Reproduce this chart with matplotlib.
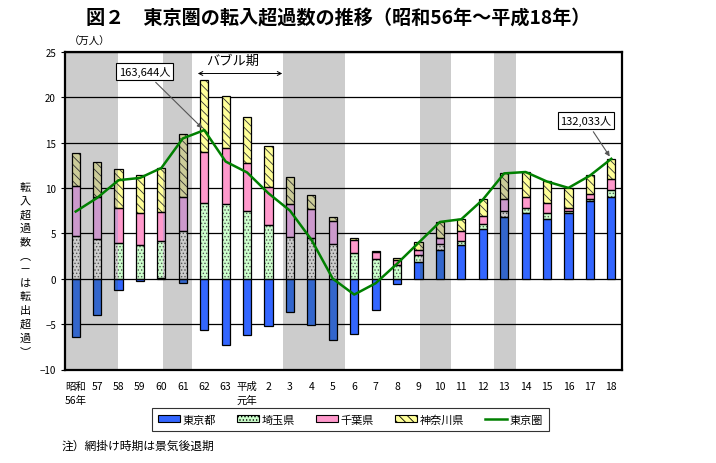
import matplotlib
matplotlib.use('Agg')
import matplotlib.pyplot as plt
import matplotlib.colors as mcolors
from matplotlib.patches import Patch
from matplotlib.lines import Line2D
from matplotlib.path import Path
import numpy as np

plt.rcParams['font.family'] = ['Noto Sans CJK JP', 'DejaVu Sans']
plt.rcParams['hatch.linewidth'] = 0.6

# 年次（昭和56年～平成18年）
years = ['昭和\n56年', '57', '58', '59', '60', '61', '62', '63', '平成\n元年', '2', '3', '4', '5',
         '6', '7', '8', '9', '10', '11', '12', '13', '14', '15', '16', '17', '18']

# 転入超過数（万人）
tokyo = [-6.4, -3.95, -1.2, -0.25, 0.1, -0.5, -5.6, -7.25, -6.15, -5.2, -3.65, -5.05, -6.8,
         -6.1, -3.4, -0.6, 1.85, 3.2, 3.75, 5.5, 6.85, 7.25, 6.6, 7.2, 8.6, 8.95]
saitama = [4.75, 4.4, 3.95, 3.75, 4.1, 5.2, 8.3, 8.25, 7.45, 5.95, 4.6, 4.45, 3.85,
           2.85, 2.2, 1.55, 0.75, 0.65, 0.45, 0.5, 0.65, 0.5, 0.65, 0.25, 0.2, 0.85]
chiba = [5.5, 4.55, 3.8, 3.5, 3.2, 3.85, 5.7, 6.1, 5.25, 4.15, 3.6, 3.2, 2.45,
         1.45, 0.75, 0.5, 0.55, 0.6, 1.1, 0.9, 1.3, 1.3, 1.1, 0.35, 0.5, 1.15]
kanagawa = [3.55, 3.85, 4.3, 4.15, 4.8, 6.85, 7.85, 5.8, 5.15, 4.5, 2.95, 1.6, 0.5,
            0.15, 0.05, 0.2, 0.85, 1.75, 1.3, 1.85, 2.8, 2.65, 2.4, 2.15, 2.1, 2.2]
tokyo_area = [7.4, 8.9, 10.85, 11.1, 12.2, 15.45, 16.3644, 12.9, 11.7, 9.4, 7.5, 4.3, 0.0,
              -1.75, -0.5, 1.65, 3.95, 6.25, 6.55, 8.7, 11.6, 11.75, 10.7, 10.0, 11.35, 13.2033]

# 景気後退期（網掛け）
recessions = [(-0.5, 1.96), (4.07, 5.43), (9.68, 12.56), (16.07, 17.52), (19.53, 20.55)]

series = [
    ('東京都', tokyo, '#3366FF', None, '#3366FF'),
    ('埼玉県', saitama, '#CCFFCC', '.....', '#555555'),
    ('千葉県', chiba, '#FF99CC', None, '#FF99CC'),
    ('神奈川県', kanagawa, '#FFFF99', '\\\\\\\\', '#333333'),
]
band = '#CCCCCC'


def muted(c):
    # 網掛け部分の色
    r = mcolors.to_rgb(c)
    g = mcolors.to_rgb(band)
    return tuple(min(a, b) for a, b in zip(r, g))


x = np.arange(len(years))

fig = plt.figure(figsize=(7.16, 4.64), dpi=100)
ax = fig.add_axes([65 / 716, 1 - 370.5 / 464, (622 - 65) / 716, (370.5 - 52.7) / 464])

verts, codes = [], []
for a, b in recessions:
    ax.axvspan(a, b, color=band, lw=0, zorder=0)
    verts += [(a, -10), (b, -10), (b, 25), (a, 25), (a, -10)]
    codes += [Path.MOVETO, Path.LINETO, Path.LINETO, Path.LINETO, Path.CLOSEPOLY]
clip = Path(verts, codes)

w = 0.38
pos = np.zeros(len(x))
neg = np.zeros(len(x))
handles = []
for name, vals, col, hatch, hcol in series:
    v = np.array(vals)
    bottom = np.where(v >= 0, pos, neg)
    ax.bar(x, v, w, bottom=bottom, color=col, edgecolor=hcol, linewidth=0,
           hatch=hatch, zorder=3)
    dark = ax.bar(x, v, w, bottom=bottom, color=muted(col), edgecolor=muted(hcol), linewidth=0,
                  hatch=hatch, zorder=3.1)
    for p in dark:
        p.set_clip_path(clip, ax.transData)
    ax.bar(x, v, w, bottom=bottom, fill=False, edgecolor='black', linewidth=0.9, zorder=3.2)
    pos = pos + np.where(v >= 0, v, 0)
    neg = neg + np.where(v < 0, v, 0)
    handles.append(Patch(facecolor=col, edgecolor='black', hatch=hatch, linewidth=0.8, label=name))

ax.plot(x, tokyo_area, color='#008000', lw=1.8, zorder=4)
handles.append(Line2D([], [], color='#008000', lw=1.8, label='東京圏'))

ax.set_xlim(-0.5, len(x) - 0.5)
ax.set_ylim(-10, 25)
ax.set_yticks(range(-10, 26, 5))
ax.yaxis.grid(True, color='black', lw=0.9)
ax.set_axisbelow(False)
for gl in ax.get_ygridlines():
    gl.set_zorder(1)
ax.set_xticks(x)
ax.set_xticklabels(years, fontsize=7.5, linespacing=1.5, va='top')
ax.tick_params(axis='x', length=0, pad=8)
ax.tick_params(axis='y', labelsize=7, length=3, direction='out')
for s in ax.spines.values():
    s.set_linewidth(1.6)

ax.annotate('163,644人', xy=(6, 16.3644), xytext=(3.23, 22.8), fontsize=8,
            ha='center', va='center', zorder=6,
            bbox=dict(boxstyle='square,pad=0.25', fc='white', ec='black', lw=0.8),
            arrowprops=dict(arrowstyle='-|>', color='#555555', lw=0.8, mutation_scale=7))
ax.annotate('132,033人', xy=(25, 13.2033), xytext=(23.82, 17.4), fontsize=8,
            ha='center', va='center', zorder=6,
            bbox=dict(boxstyle='square,pad=0.25', fc='white', ec='black', lw=0.8),
            arrowprops=dict(arrowstyle='-|>', color='#555555', lw=0.8, mutation_scale=7))
ax.annotate('', xy=(5.57, 22.6), xytext=(9.77, 22.6),
            arrowprops=dict(arrowstyle='<->', color='black', lw=0.7, mutation_scale=7))
ax.text(7.34, 24.0, 'バブル期', fontsize=9.5, ha='center', va='center')

fig.text(90 / 716, 1 - 42 / 464, '（万人）', fontsize=7.5, ha='center', va='center')
fig.text(25 / 716, 1 - 270 / 464, '\n'.join('転入超過数︵－は転出超過︶'), fontsize=8,
         ha='center', va='center', linespacing=1.45)
fig.text(338 / 716, 1 - 19 / 464, '図２　東京圏の転入超過数の推移（昭和56年～平成18年）',
         fontsize=13.8, fontweight='bold', ha='center', va='center')

leg = fig.legend(handles=handles, loc='center', bbox_to_anchor=(350.5 / 716, 1 - 420.5 / 464),
                 ncol=5, fontsize=8, frameon=True, fancybox=False, edgecolor='black',
                 handlelength=2.0, handleheight=0.6, handletextpad=0.2, columnspacing=1.9,
                 borderpad=0.55)
leg.get_frame().set_linewidth(0.8)

fig.text(62 / 716, 1 - 446 / 464, '注）網掛け時期は景気後退期', fontsize=8.5, ha='left', va='center')

fig.savefig('out.png', dpi=100)
